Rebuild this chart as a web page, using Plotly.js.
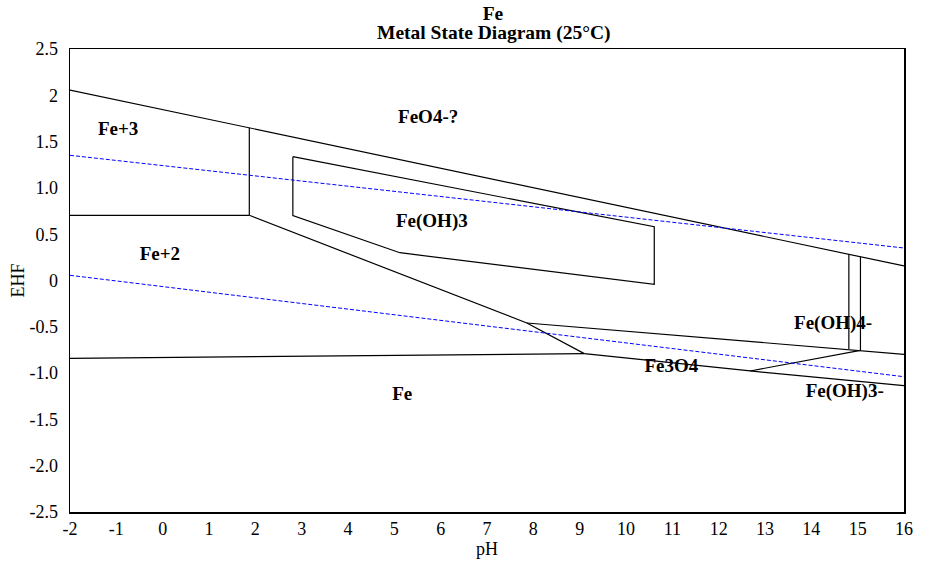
<!DOCTYPE html>
<html>
<head>
<meta charset="utf-8">
<script src="https://cdn.plot.ly/plotly-3.0.1.min.js"></script>
<style>html,body{margin:0;padding:0;background:#fff;}#chart{width:929px;height:565px;}</style>
</head>
<body>
<div id="chart"></div>
<script>
// Titles
const chartTitle = 'Fe';
const chartSubtitle = 'Metal State Diagram (25°C)';

// pH axis ticks and labels
const xTickVals = [-2,-1,0,1,2,3,4,5,6,7,8,9,10,11,12,13,14,15,16];
const xTickText = ['-2','-1','0','1','2','3','4','5','6','7','8','9','10','11','12','13','14','15','16'];
const yTickVals = [2.5,2,1.5,1,0.5,0,-0.5,-1,-1.5,-2,-2.5];
const yTickText = ['2.5','2','1.5','1.0','0.5','0','-0.5','-1.0','-1.5','-2.0','-2.5'];

// Boundary lines (pH, EHF)
const upperPH = [-2, 16];            const upperE = [2.057, 0.157];
const fe3VertPH = [1.87, 1.87];      const fe3VertE = [1.649, 0.704];
const fe3fe2PH = [-2, 1.87];         const fe3fe2E = [0.704, 0.704];
const diagPH = [1.87, 7.86, 9.10];   const diagE = [0.704, -0.459, -0.79];
const feFe2PH = [-2, 9.10];          const feFe2E = [-0.840, -0.79];
const fe3o4LowPH = [9.10, 12.68, 16];const fe3o4LowE = [-0.79, -0.977, -1.136];
const fe3o4UpPH = [12.68, 15.06];    const fe3o4UpE = [-0.977, -0.754];
const oh4LowPH = [7.86, 16];         const oh4LowE = [-0.459, -0.797];
const vertAPH = [14.81, 14.81];      const vertAE = [0.283, -0.740];
const vertBPH = [15.06, 15.06];      const vertBE = [0.256, -0.754];
const feoh3PH = [2.81, 10.61, 10.61, 5.12, 2.81, 2.81];
const feoh3E  = [1.337, 0.581, -0.041, 0.300, 0.700, 1.337];

// Water stability lines
const o2PH = [-2, 16]; const o2E = [1.352, 0.351];
const h2PH = [-2, 16]; const h2E = [0.056, -1.039];

// Region labels
const labelText = ['Fe+3','FeO4-?','Fe(OH)3','Fe+2','Fe(OH)4-','Fe3O4','Fe(OH)3-','Fe'];
const labelPH   = [-0.96, 5.73, 5.81, -0.06, 14.47, 10.98, 14.72, 5.17];
const labelE    = [1.625, 1.75, 0.632, 0.275, -0.47, -0.934, -1.21, -1.236];

const solid = {color:'#000', width:1.2};
const dashed = {color:'#0000ff', width:1, dash:'4px,2px'};
const pairs = [
  [upperPH, upperE], [fe3VertPH, fe3VertE], [fe3fe2PH, fe3fe2E], [diagPH, diagE],
  [feFe2PH, feFe2E], [fe3o4LowPH, fe3o4LowE], [fe3o4UpPH, fe3o4UpE], [oh4LowPH, oh4LowE],
  [vertAPH, vertAE], [vertBPH, vertBE], [feoh3PH, feoh3E]
];
const traces = pairs.map(p => ({x:p[0], y:p[1], type:'scatter', mode:'lines', line:solid, hoverinfo:'skip', showlegend:false}));
traces.push({x:o2PH, y:o2E, type:'scatter', mode:'lines', line:dashed, showlegend:false});
traces.push({x:h2PH, y:h2E, type:'scatter', mode:'lines', line:dashed, showlegend:false});
traces.push({x:labelPH, y:labelE, text:labelText, type:'scatter', mode:'text',
  textfont:{family:'Liberation Serif', size:19, color:'#000', weight:'bold'}, showlegend:false});

const font = {family:'Liberation Serif', size:18, color:'#000'};
const titleFont = {family:'Liberation Serif', size:19.5, color:'#000', weight:'bold'};
const layout = {
  width:929, height:565,
  margin:{l:70, r:25, t:49, b:53},
  paper_bgcolor:'#fff', plot_bgcolor:'#fff',
  font:font,
  title:{text:chartTitle, font:titleFont, x:0.5 + 6/834, xref:'paper', xanchor:'center',
    y:1 - 13/565, yanchor:'middle', yref:'container'},
  annotations:[{text:chartSubtitle, font:titleFont, xref:'paper', x:0.5, xanchor:'center', xshift:7,
    yref:'paper', y:1 + 16/463, yanchor:'middle', showarrow:false}],
  xaxis:{range:[-2,16], tickmode:'array', tickvals:xTickVals, ticktext:xTickText, ticks:'', showgrid:false, zeroline:false,
    showline:true, linecolor:'#000', linewidth:1.5, mirror:true, ticklabelstandoff:0,
    title:{text:'pH', font:font, standoff:2}},
  yaxis:{range:[-2.5,2.5], tickmode:'array', tickvals:yTickVals, ticktext:yTickText, ticks:'', showgrid:false, zeroline:false,
    showline:true, linecolor:'#000', linewidth:1.5, mirror:true, ticklabelstandoff:7,
    title:{text:'EHF', font:font, standoff:0}}
};
Plotly.newPlot('chart', traces, layout, {displayModeBar:false, staticPlot:true});
</script>
</body>
</html>
